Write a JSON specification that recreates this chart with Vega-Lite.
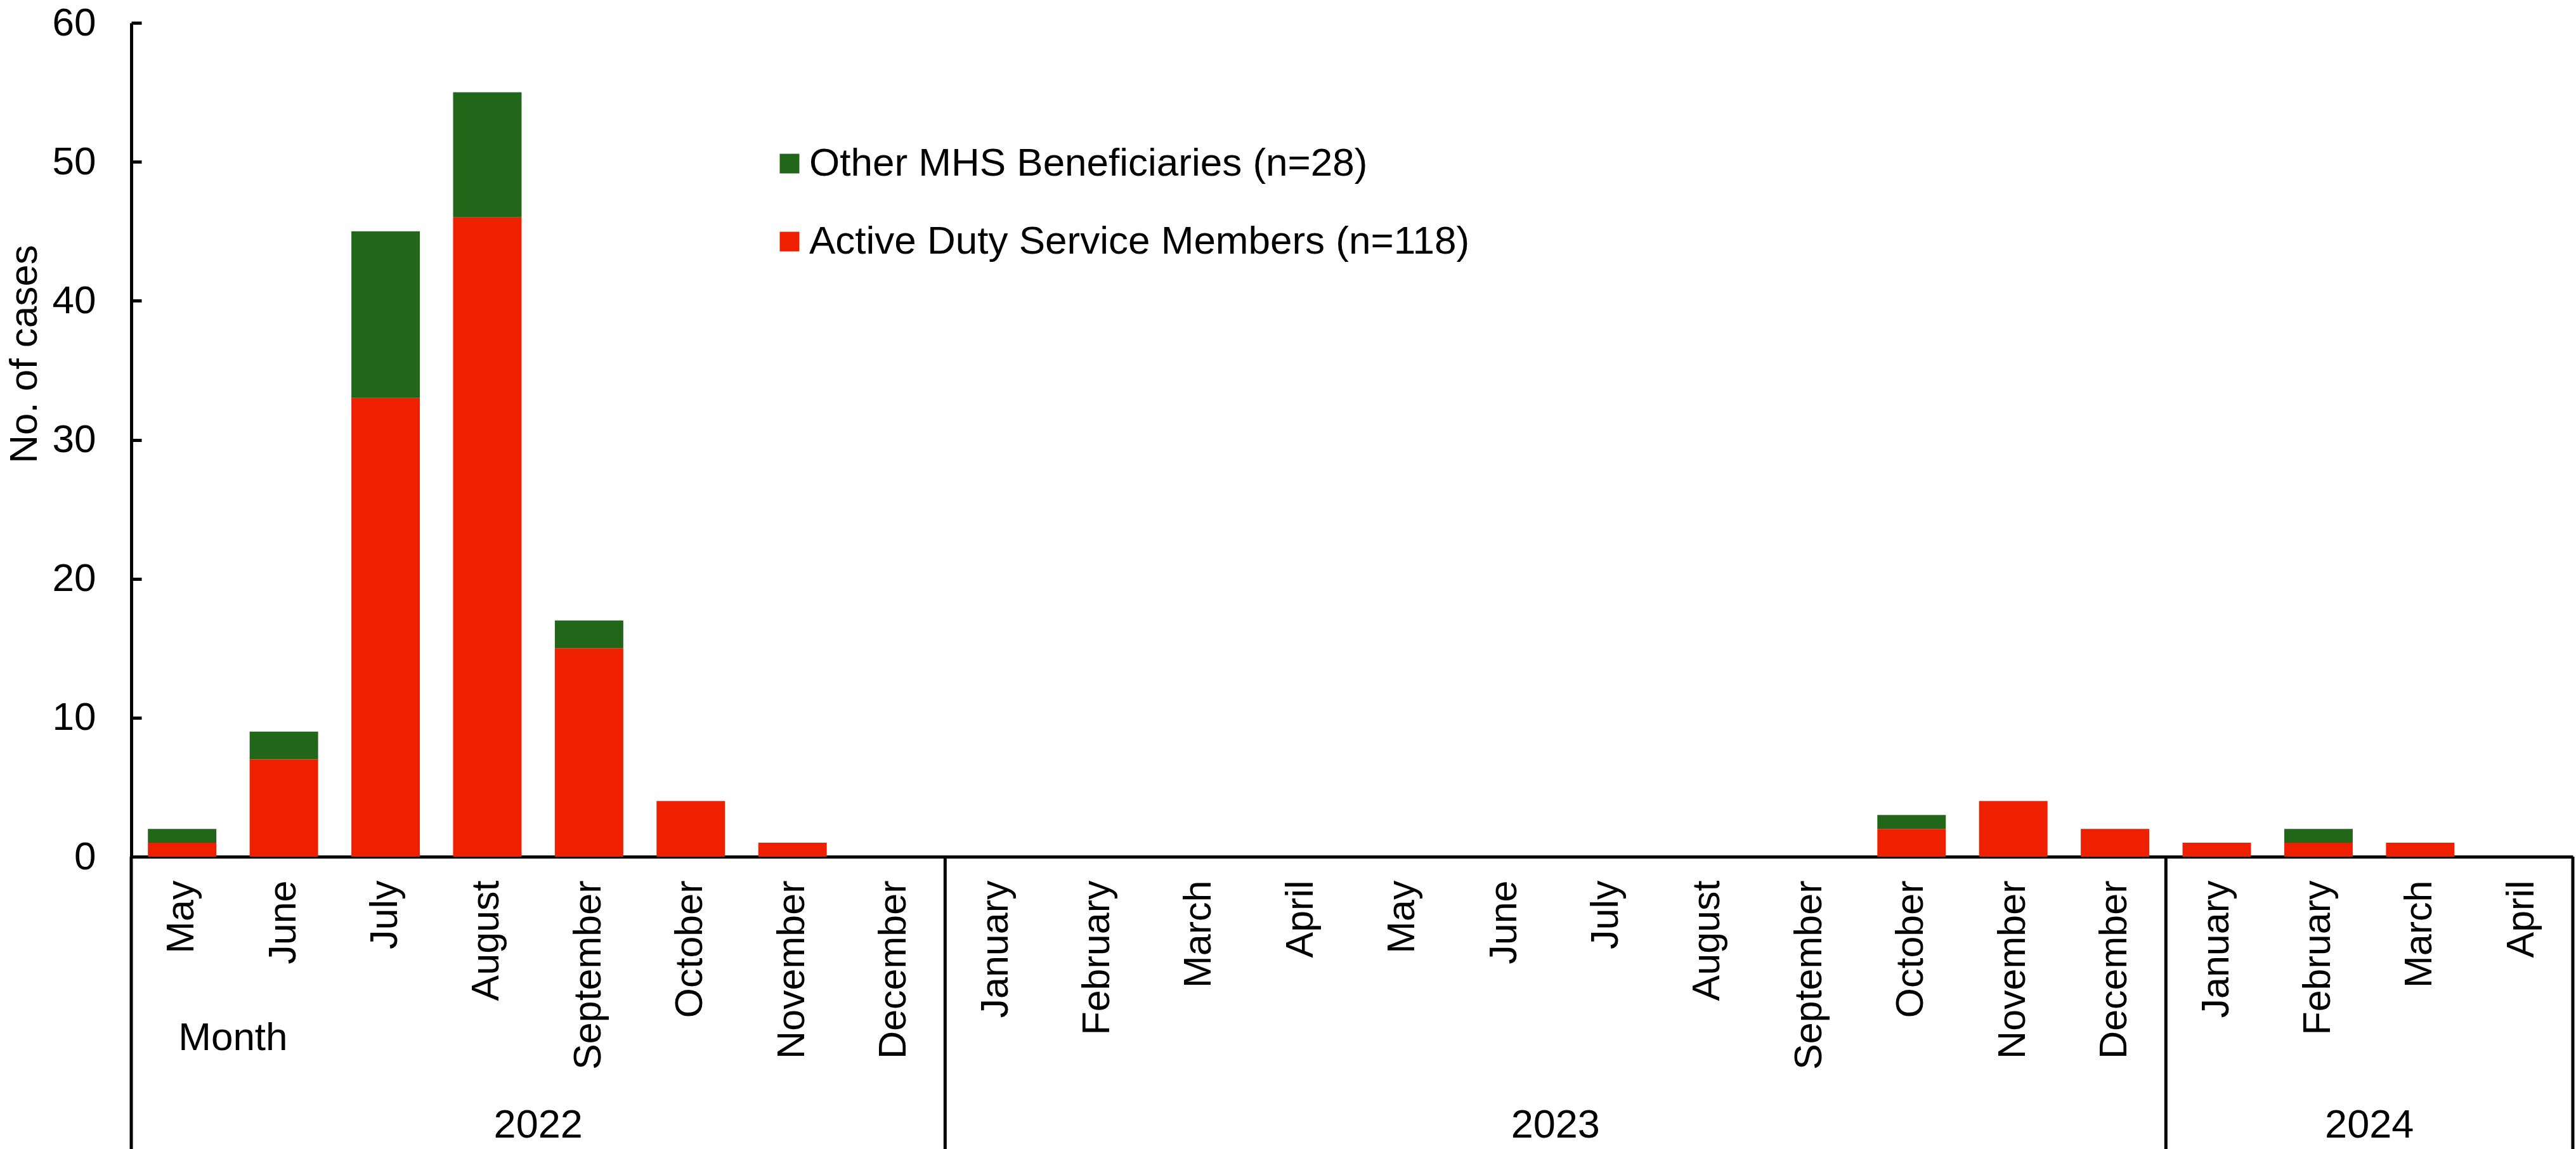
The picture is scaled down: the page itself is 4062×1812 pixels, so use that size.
{
  "$schema": "https://vega.github.io/schema/vega-lite/v6.json",
  "autosize": {"type": "none"},
  "width": 3850,
  "height": 1315,
  "padding": {"left": 207, "top": 36, "right": 5, "bottom": 461},
  "background": "white",
  "config": {"font": "Liberation Sans", "view": {"stroke": null}},
  "datasets": {
    "cases": [
      {"key": "2022|May", "group": "Active Duty Service Members (n=118)", "cases": 1},
      {"key": "2022|May", "group": "Other MHS Beneficiaries (n=28)", "cases": 1},
      {"key": "2022|June", "group": "Active Duty Service Members (n=118)", "cases": 7},
      {"key": "2022|June", "group": "Other MHS Beneficiaries (n=28)", "cases": 2},
      {"key": "2022|July", "group": "Active Duty Service Members (n=118)", "cases": 33},
      {"key": "2022|July", "group": "Other MHS Beneficiaries (n=28)", "cases": 12},
      {"key": "2022|August", "group": "Active Duty Service Members (n=118)", "cases": 46},
      {"key": "2022|August", "group": "Other MHS Beneficiaries (n=28)", "cases": 9},
      {"key": "2022|September", "group": "Active Duty Service Members (n=118)", "cases": 15},
      {"key": "2022|September", "group": "Other MHS Beneficiaries (n=28)", "cases": 2},
      {"key": "2022|October", "group": "Active Duty Service Members (n=118)", "cases": 4},
      {"key": "2022|November", "group": "Active Duty Service Members (n=118)", "cases": 1},
      {"key": "2023|October", "group": "Active Duty Service Members (n=118)", "cases": 2},
      {"key": "2023|October", "group": "Other MHS Beneficiaries (n=28)", "cases": 1},
      {"key": "2023|November", "group": "Active Duty Service Members (n=118)", "cases": 4},
      {"key": "2023|December", "group": "Active Duty Service Members (n=118)", "cases": 2},
      {"key": "2024|January", "group": "Active Duty Service Members (n=118)", "cases": 1},
      {"key": "2024|February", "group": "Active Duty Service Members (n=118)", "cases": 1},
      {"key": "2024|February", "group": "Other MHS Beneficiaries (n=28)", "cases": 1},
      {"key": "2024|March", "group": "Active Duty Service Members (n=118)", "cases": 1}
    ],
    "edgesStart": [{"key": "2022|May"}, {"key": "2023|January"}, {"key": "2024|January"}],
    "edgesEnd": [{"key": "2024|April"}],
    "years": [
      {"key": "2022|August", "label": "2022"},
      {"key": "2023|June", "label": "2023"},
      {"key": "2024|February", "label": "2024"}
    ],
    "monthTitle": [{"key": "2022|May", "label": "Month"}]
  },
  "layer": [
    {
      "data": {"name": "cases"},
      "mark": {"type": "bar", "width": {"band": 0.673}},
      "encoding": {
        "x": {
          "field": "key", "type": "nominal",
          "scale": {"domain": ["2022|May","2022|June","2022|July","2022|August","2022|September","2022|October","2022|November","2022|December","2023|January","2023|February","2023|March","2023|April","2023|May","2023|June","2023|July","2023|August","2023|September","2023|October","2023|November","2023|December","2024|January","2024|February","2024|March","2024|April"], "paddingInner": 0, "paddingOuter": 0},
          "axis": {"title": null, "labelExpr": "split(datum.value, '|')[1]", "labelAngle": 270, "labelAlign": "right", "labelBaseline": "middle", "labelFontSize": 61, "labelColor": "black", "labelPadding": 37, "labelLimit": 1000, "ticks": false, "domainColor": "black", "domainWidth": 5, "labelOverlap": false}
        },
        "y": {
          "field": "cases", "type": "quantitative", "stack": "zero",
          "scale": {"domain": [0, 60], "nice": false},
          "axis": {"title": "No. of cases", "values": [0, 10, 20, 30, 40, 50, 60], "grid": false, "domainColor": "black", "domainWidth": 5, "tickColor": "black", "tickWidth": 5, "tickSize": -16, "labelFontSize": 62, "labelColor": "black", "labelPadding": 72, "titleFontSize": 62, "titleFontWeight": "normal", "titleColor": "black", "titleAngle": 270, "titleX": -150, "titleY": 522, "titleAlign": "center", "titleBaseline": "alphabetic"}
        },
        "color": {
          "field": "group", "type": "nominal",
          "scale": {"domain": ["Other MHS Beneficiaries (n=28)", "Active Duty Service Members (n=118)"], "range": ["#22661A", "#EE2000"]},
          "legend": {"title": null, "orient": "none", "legendX": 1007, "legendY": 191, "symbolType": "square", "symbolSize": 961, "symbolStrokeWidth": 0, "symbolOpacity": 1, "labelFontSize": 62, "labelColor": "black", "labelOffset": 0, "rowPadding": 61, "labelLimit": 0}
        },
        "order": {"field": "group", "sort": "ascending"}
      }
    },
    {
      "data": {"name": "edgesStart"},
      "mark": {"type": "rule", "color": "black", "strokeWidth": 5},
      "encoding": {
        "x": {"field": "key", "type": "nominal", "bandPosition": 0},
        "y": {"datum": 0, "scale": {"domain": [0, 60], "nice": false}},
        "y2": {"datum": -21.2}
      }
    },
    {
      "data": {"name": "edgesEnd"},
      "mark": {"type": "rule", "color": "black", "strokeWidth": 5},
      "encoding": {
        "x": {"field": "key", "type": "nominal", "bandPosition": 1},
        "y": {"datum": 0, "scale": {"domain": [0, 60], "nice": false}},
        "y2": {"datum": -21.2}
      }
    },
    {
      "data": {"name": "years"},
      "mark": {"type": "text", "fontSize": 63, "baseline": "alphabetic", "align": "center", "color": "black"},
      "encoding": {
        "x": {"field": "key", "type": "nominal", "bandPosition": 1},
        "y": {"datum": -20.2, "scale": {"domain": [0, 60], "nice": false}},
        "text": {"field": "label"}
      }
    },
    {
      "data": {"name": "monthTitle"},
      "mark": {"type": "text", "fontSize": 62, "baseline": "alphabetic", "align": "center", "color": "black"},
      "encoding": {
        "x": {"field": "key", "type": "nominal", "bandPosition": 1},
        "y": {"datum": -13.9, "scale": {"domain": [0, 60], "nice": false}},
        "text": {"field": "label"}
      }
    }
  ]
}
